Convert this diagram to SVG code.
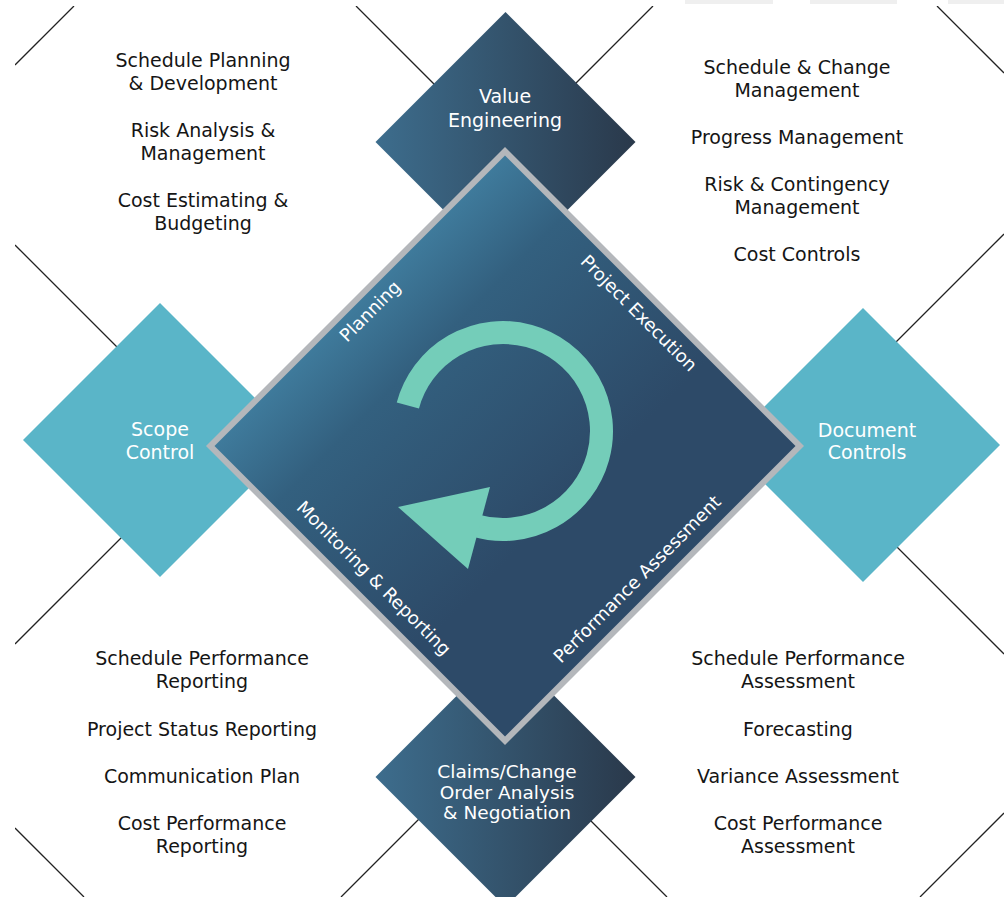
<svg xmlns="http://www.w3.org/2000/svg" width="1004" height="897" viewBox="0 0 1004 897">
<defs>
<clipPath id="clip"><rect x="15" y="6" width="989" height="891"/></clipPath>
<linearGradient id="darkG" x1="0" y1="0" x2="1" y2="0">
<stop offset="0" stop-color="#3d6d8d"/>
<stop offset="1" stop-color="#2a394b"/>
</linearGradient>
<linearGradient id="centerG" x1="0.15" y1="0.15" x2="0.6" y2="0.6">
<stop offset="0" stop-color="#4a94b7"/>
<stop offset="0.45" stop-color="#33607f"/>
<stop offset="1" stop-color="#2d4a68"/>
</linearGradient>
<style>
.list{font-family:"DejaVu Sans","Liberation Sans",sans-serif;font-size:19px;fill:#151515;text-anchor:middle}
.node{font-family:"DejaVu Sans","Liberation Sans",sans-serif;font-size:19px;fill:#ffffff;text-anchor:middle}
.claims{font-size:18.5px}
.edge{font-family:"DejaVu Sans","Liberation Sans",sans-serif;font-size:18px;fill:#ffffff;text-anchor:middle}
.grid{stroke:#222;stroke-width:1.3;fill:none}
.teal{fill:#5ab5c8}
.dark{fill:url(#darkG)}
</style>
</defs>
<rect width="1004" height="897" fill="#ffffff"/>
<g fill="#efefef">
<rect x="685" y="0" width="88" height="4"/>
<rect x="810" y="0" width="87" height="4"/>
<rect x="948" y="0" width="56" height="4"/>
</g>
<g id="connectors" clip-path="url(#clip)" class="grid">
<line x1="15" y1="65" x2="74" y2="6"/>
<line x1="15" y1="644" x2="653" y2="6"/>
<line x1="341" y1="897" x2="1004" y2="234"/>
<line x1="920" y1="897" x2="1004" y2="813"/>
<line x1="937" y1="6" x2="1004" y2="73"/>
<line x1="356" y1="6" x2="1004" y2="654"/>
<line x1="15" y1="245" x2="667" y2="897"/>
<line x1="15" y1="828" x2="84" y2="897"/>
</g>
<g id="list-top-left" class="list">
<text x="203" y="67">Schedule Planning</text>
<text x="203" y="90">&amp; Development</text>
<text x="203" y="137">Risk Analysis &amp;</text>
<text x="203" y="160">Management</text>
<text x="203" y="207">Cost Estimating &amp;</text>
<text x="203" y="230">Budgeting</text>
</g>
<g id="list-top-right" class="list">
<text x="797" y="74">Schedule &amp; Change</text>
<text x="797" y="97">Management</text>
<text x="797" y="144">Progress Management</text>
<text x="797" y="191">Risk &amp; Contingency</text>
<text x="797" y="214">Management</text>
<text x="797" y="261">Cost Controls</text>
</g>
<g id="list-bottom-left" class="list">
<text x="202" y="665">Schedule Performance</text>
<text x="202" y="688">Reporting</text>
<text x="202" y="736">Project Status Reporting</text>
<text x="202" y="783">Communication Plan</text>
<text x="202" y="830">Cost Performance</text>
<text x="202" y="853">Reporting</text>
</g>
<g id="list-bottom-right" class="list">
<text x="798" y="665">Schedule Performance</text>
<text x="798" y="688">Assessment</text>
<text x="798" y="736">Forecasting</text>
<text x="798" y="783">Variance Assessment</text>
<text x="798" y="830">Cost Performance</text>
<text x="798" y="853">Assessment</text>
</g>
<g id="value-engineering">
<polygon class="dark" points="505.5,12 635.5,142 505.5,272 375.5,142"/>
<text class="node" x="505" y="103">Value</text>
<text class="node" x="505" y="127">Engineering</text>
</g>
<g id="claims">
<polygon class="dark" points="505.5,647 635.5,777 505.5,907 375.5,777"/>
<text class="node claims" x="507" y="778">Claims/Change</text>
<text class="node claims" x="507" y="799">Order Analysis</text>
<text class="node claims" x="507" y="819">&amp; Negotiation</text>
</g>
<g id="scope-control">
<polygon class="teal" points="160,303 297,440 160,577 23,440"/>
<text class="node" x="160" y="436">Scope</text>
<text class="node" x="160" y="459">Control</text>
</g>
<g id="document-controls">
<polygon class="teal" points="863,308 1000,445 863,582 726,445"/>
<text class="node" x="867" y="437">Document</text>
<text class="node" x="867" y="459">Controls</text>
</g>
<g id="center">
<polygon fill="#b4b7bb" points="505,147 804,446 505,745 206,446"/>
<polygon fill="url(#centerG)" points="505,155.5 795.5,446 505,736.5 214.5,446"/>
<path d="M 407.86 405.51 A 98.5 98.5 0 1 1 475.85 525.69" fill="none" stroke="#74cdb9" stroke-width="23"/>
<polygon fill="#74cdb9" points="490,487 468,569 398,507"/>
<text class="edge" transform="translate(371,312) rotate(-45)" x="0" y="5">Planning</text>
<text class="edge" transform="translate(638,314) rotate(45)" x="0" y="5">Project Execution</text>
<text class="edge" transform="translate(373,579) rotate(45)" x="0" y="5">Monitoring &amp; Reporting</text>
<text class="edge" transform="translate(638,580) rotate(-45)" x="0" y="5">Performance Assessment</text>
</g>
</svg>
